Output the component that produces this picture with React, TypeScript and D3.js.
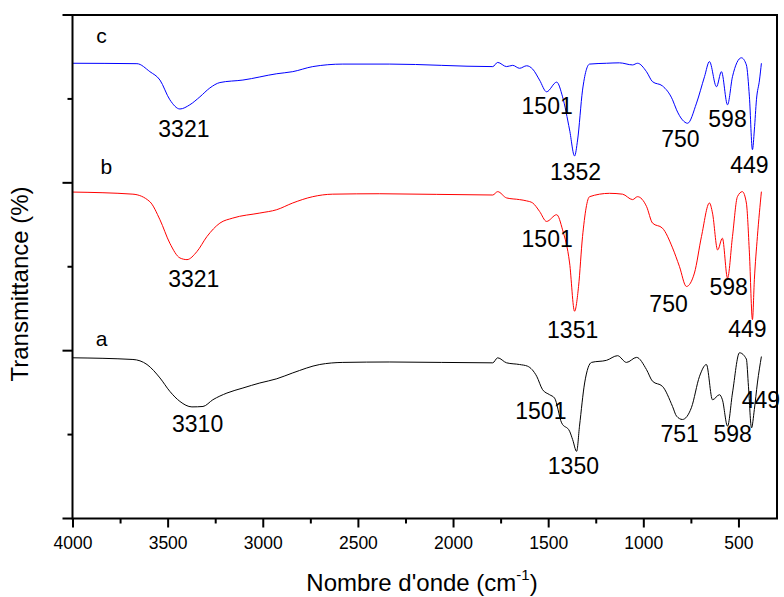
import React from "react";
import * as d3 from "d3";

// Spectra: [wavenumber (cm-1), transmittance (arb. units, 0-120 axis)]
const seriesA: [number, number][] = [
  [4000, 38.3], [3685, 37.9], [3611, 36.7], [3543, 33.5], [3491, 30.3], [3438, 27.9],
  [3375, 26.6], [3317, 26.7], [3265, 28.3], [3191, 29.9], [3107, 31.1], [3018, 32.3],
  [2929, 33.3], [2845, 34.7], [2703, 36.7], [2582, 37.2], [2335, 37.3], [1794, 37.1],
  [1768, 38.3], [1721, 37.1], [1653, 36.7], [1611, 36.3], [1563, 33.9], [1532, 30.7],
  [1495, 29.5], [1469, 28.7], [1432, 22.8], [1390, 20.8], [1374, 18.8], [1353, 16.0],
  [1338, 22.0], [1311, 32.3], [1275, 37.2], [1196, 37.7], [1138, 38.8], [1091, 37.2],
  [1038, 38.4], [986, 35.5], [954, 32.7], [902, 31.5], [849, 26.7], [828, 24.4],
  [797, 23.6], [750, 26.4], [707, 33.9], [671, 36.7], [639, 28.3], [602, 29.5],
  [587, 28.3], [560, 22.0], [534, 29.9], [497, 39.5], [461, 38.0], [450, 31.5],
  [434, 21.6], [419, 26.0], [403, 32.3], [382, 38.6],
];

const seriesB: [number, number][] = [
  [4000, 77.8], [3685, 77.3], [3596, 75.5], [3543, 71.2], [3491, 65.6], [3438, 62.1],
  [3401, 61.7], [3349, 63.6], [3296, 67.2], [3228, 70.4], [3160, 71.6], [3018, 72.8],
  [2929, 73.6], [2845, 75.2], [2740, 76.7], [2635, 77.3], [2388, 77.4], [1794, 77.1],
  [1768, 77.9], [1721, 76.4], [1653, 76.0], [1616, 75.7], [1584, 75.2], [1548, 73.2],
  [1511, 70.8], [1458, 72.4], [1427, 68.8], [1390, 60.9], [1364, 49.4], [1343, 55.3],
  [1322, 67.2], [1285, 76.7], [1180, 77.5], [1112, 77.3], [1059, 76.0], [1033, 76.7],
  [986, 74.4], [954, 70.4], [902, 69.2], [849, 64.5], [813, 60.1], [776, 55.3],
  [734, 58.5], [697, 67.2], [655, 75.2], [639, 72.8], [612, 64.0], [587, 66.8],
  [560, 57.3], [534, 67.2], [508, 76.7], [482, 77.9], [461, 75.2], [445, 63.3],
  [429, 47.4], [419, 56.9], [403, 67.2], [382, 77.9],
];

const seriesC: [number, number][] = [
  [4000, 108.5], [3664, 108.4], [3596, 106.5], [3543, 104.5], [3491, 99.8], [3438, 97.6],
  [3386, 98.6], [3333, 100.5], [3281, 102.6], [3228, 103.9], [3107, 104.5], [2929, 106.0],
  [2845, 106.5], [2740, 107.7], [2582, 108.3], [2335, 108.3], [1794, 107.7], [1768, 108.7],
  [1721, 107.7], [1689, 108.0], [1653, 107.3], [1616, 107.9], [1584, 107.1], [1548, 104.5],
  [1511, 101.7], [1458, 104.0], [1427, 100.5], [1390, 92.6], [1364, 86.4], [1348, 90.2],
  [1322, 102.1], [1285, 108.3], [1196, 108.5], [1128, 108.6], [1059, 108.1], [1033, 108.5],
  [986, 106.5], [954, 104.1], [902, 103.1], [849, 99.8], [828, 97.4], [797, 95.0],
  [770, 94.2], [723, 99.0], [681, 105.3], [655, 108.9], [618, 102.9], [592, 106.5],
  [560, 98.6], [534, 105.3], [487, 109.8], [461, 108.1], [445, 100.5], [429, 87.9],
  [419, 92.6], [408, 99.8], [392, 104.5], [382, 108.5],
];

const seriesColors = ["#000000", "#ff0000", "#0000ff"];

// Peak annotations: [label, wavenumber position, value position]
const peaksA: [string, number, number][] = [
  ["3310", 3345, 20.6], ["1501", 1541, 23.8], ["1350", 1370, 10.5],
  ["751", 812, 18.3], ["598", 533, 18.3], ["449", 385, 26.4],
];
const peaksB: [string, number, number][] = [
  ["3321", 3365, 55.2], ["1501", 1508, 64.8], ["1351", 1374, 43.1],
  ["750", 870, 49.3], ["598", 554, 53.3], ["449", 456, 43.3],
];
const peaksC: [string, number, number][] = [
  ["3321", 3417, 91.0], ["1501", 1508, 96.4], ["1352", 1359, 80.7],
  ["750", 808, 88.6], ["598", 560, 93.3], ["449", 445, 82.4],
];
const nameLabelPos: [string, number, number][] = [
  ["a", 3850, 41.2], ["b", 3825, 82.0], ["c", 3850, 113.3],
];

const xTicksMajor = [4000, 3500, 3000, 2500, 2000, 1500, 1000, 500];
const xTicksMinor = [3750, 3250, 2750, 2250, 1750, 1250, 750];
const yTicksMajor = [0, 40, 80, 120];
const yTicksMinor = [20, 60, 100];

const W = 784;
const H = 597;
const left = 72.5;
const right = 777;
const top = 15;
const bottom = 518.5;

export default function App() {
  const x = d3.scaleLinear().domain([4000, 300]).range([left + 0.5, right]);
  const y = d3.scaleLinear().domain([0, 120]).range([bottom, top]);
  const line = d3
    .line<[number, number]>()
    .x((d) => x(d[0]))
    .y((d) => y(d[1]))
    .curve(d3.curveMonotoneX);

  const all = [seriesA, seriesB, seriesC];
  const peaks = [peaksA, peaksB, peaksC];
  const font = "'Liberation Sans', Arial, sans-serif";

  return (
    <svg
      width={W}
      height={H}
      style={{ position: "absolute", left: 0, top: 0, background: "#fff" }}
      fontFamily={font}
    >
      <rect x={0} y={0} width={W} height={H} fill="#fff" />
      {all.map((s, i) => (
        <path key={i} d={line(s) || ""} fill="none" stroke={seriesColors[i]} strokeWidth={1} />
      ))}
      {/* frame */}
      <rect x={left} y={top} width={right - left} height={bottom - top} fill="none" stroke="#000" strokeWidth={2} />
      {/* x ticks */}
      {xTicksMajor.map((t) => (
        <g key={"xm" + t}>
          <line x1={x(t)} x2={x(t)} y1={bottom} y2={bottom + 9} stroke="#000" strokeWidth={2} />
          <text x={x(t)} y={bottom + 30} textAnchor="middle" fontSize={17.5}>
            {t}
          </text>
        </g>
      ))}
      {xTicksMinor.map((t) => (
        <line key={"xn" + t} x1={x(t)} x2={x(t)} y1={bottom} y2={bottom + 5} stroke="#000" strokeWidth={2} />
      ))}
      {/* y ticks */}
      {yTicksMajor.map((t) => (
        <line key={"ym" + t} x1={left - 10} x2={left} y1={y(t)} y2={y(t)} stroke="#000" strokeWidth={2} />
      ))}
      {yTicksMinor.map((t) => (
        <line key={"yn" + t} x1={left - 5} x2={left} y1={y(t)} y2={y(t)} stroke="#000" strokeWidth={2} />
      ))}
      {/* series names */}
      {nameLabelPos.map(([n, w, v]) => (
        <text key={"n" + n} x={x(w)} y={y(v)} textAnchor="middle" fontSize={21}>
          {n}
        </text>
      ))}
      {/* peak labels */}
      {peaks.map((ps, i) =>
        ps.map(([lab, w, v], j) => (
          <text key={"p" + i + "-" + j} x={x(w)} y={y(v)} textAnchor="middle" fontSize={23}>
            {lab}
          </text>
        ))
      )}
      {/* axis titles */}
      <text x={422} y={591} textAnchor="middle" fontSize={24}>
        Nombre d'onde (cm
        <tspan fontSize={15} dy={-11}>-1</tspan>
        <tspan dy={11}>)</tspan>
      </text>
      <text
        transform={`translate(28, 284) rotate(-90)`}
        textAnchor="middle"
        fontSize={24}
      >
        Transmittance (%)
      </text>
    </svg>
  );
}
